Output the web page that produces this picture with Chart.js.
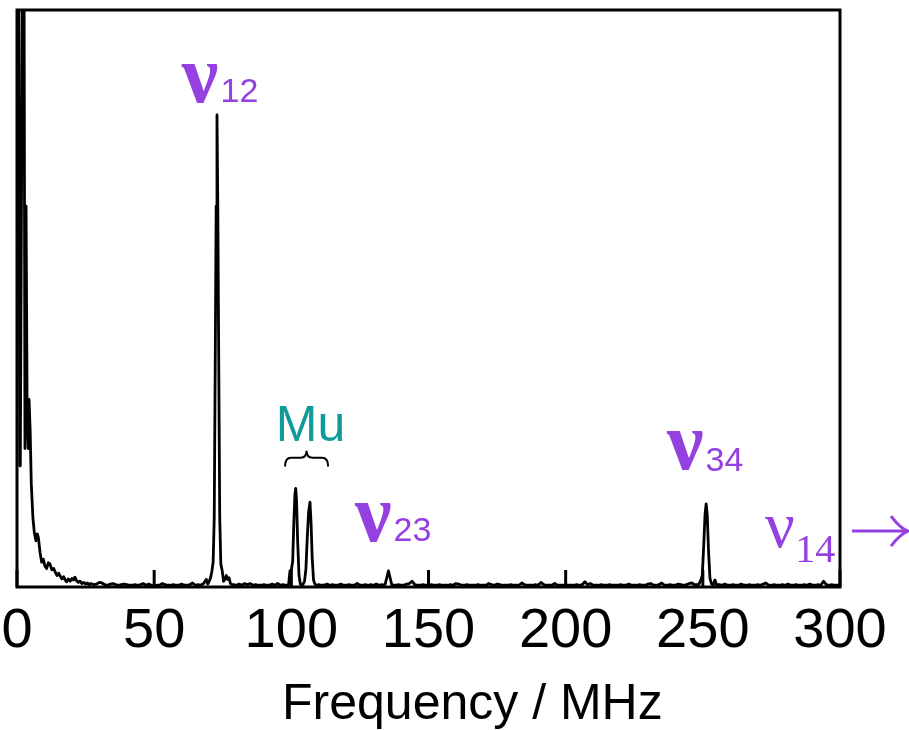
<!DOCTYPE html>
<html>
<head>
<meta charset="utf-8">
<script src="https://cdn.jsdelivr.net/npm/chart.js@4.4.1/dist/chart.umd.min.js"></script>
<style>
  html, body { margin: 0; padding: 0; background: #fff; }
  #wrap { width: 909px; height: 730px; }
</style>
</head>
<body>
<div id="wrap"><canvas id="fftChart" width="909" height="730"></canvas></div>
<script>
// FFT spectrum: frequency in MHz, amplitude in arb. units (top of frame = 100)
const xTicks = [0, 50, 100, 150, 200, 250, 300];
const xTitle = 'Frequency / MHz';

// low-frequency tail, 0-27 MHz
const lowFreq = [0, 0.5, 1.0, 1.2, 2.4, 2.9, 3.3, 3.7, 4.1, 4.4, 4.8, 5.2, 5.8, 6.3, 6.9, 7.4, 7.8, 8.4,
  9.0, 9.6, 10.2, 10.8, 11.4, 12.0, 12.7, 13.4, 13.9, 14.6, 15.2, 15.7, 16.4, 17.0, 17.6, 18.1, 18.7,
  19.4, 20.0, 20.6, 21.1, 21.7, 22.4, 23.0, 23.7, 24.4, 25.0, 25.7, 26.3];
const lowAmp = [150, 150, 21, 21, 150, 24, 66, 30, 24, 32.5, 27, 18, 12, 9.5, 8.0, 9.2, 8.5, 6.0,
  4.3, 4.8, 3.6, 3.2, 4.2, 4.0, 3.0, 3.2, 2.6, 2.0, 2.4, 1.9, 1.4, 1.8, 1.2, 0.9, 1.4,
  1.0, 1.5, 1.2, 1.7, 1.1, 0.8, 1.0, 0.6, 0.8, 0.5, 0.7, 0.4];

// background noise, one value per MHz from 27 MHz to 300 MHz
const noiseStart = 27;
const noiseAmp = [
  0.6, 0.4, 0.5, 0.8, 0.7, 0.4, 0.3, 0.5, 0.6, 0.4,
  0.3, 0.4, 0.5, 0.4, 0.3, 0.3, 0.4, 0.3, 0.4, 0.6,
  0.3, 0.5, 0.3, 0.2, 0.3, 0.3, 0.6, 0.4, 0.3, 0.3,
  0.4, 0.3, 0.3, 0.5, 0.3, 0.3, 0.4, 0.7, 0.3, 0.4,
  0.3, 0.6, 1.3, 0.5, 0.9, 1.5, 2.6, 0.5, 0.5, 0.5,
  0.5, 0.5, 0.4, 0.3, 0.5, 0.3, 0.6, 0.4, 0.6, 0.3,
  0.4, 0.3, 0.3, 0.4, 0.3, 0.3, 0.5, 0.3, 0.6, 0.3,
  0.4, 0.3, 0.4, 0.4, 0.4, 0.4, 0.4, 0.4, 0.4, 0.4,
  0.4, 0.4, 0.4, 0.4, 0.3, 0.3, 0.5, 0.3, 0.4, 0.3,
  0.3, 0.5, 0.3, 0.3, 0.4, 0.3, 0.3, 0.6, 0.3, 0.3,
  0.4, 0.3, 0.4, 0.3, 0.5, 0.3, 0.4, 0.4, 0.4, 0.4,
  0.4, 0.3, 0.4, 0.3, 0.3, 0.5, 0.6, 1.0, 0.4, 0.3,
  0.3, 0.4, 0.3, 0.3, 0.4, 0.3, 0.3, 0.4, 0.3, 0.3,
  0.3, 0.4, 0.3, 0.6, 0.5, 0.3, 0.3, 0.4, 0.3, 0.3,
  0.3, 0.4, 0.3, 0.3, 0.3, 0.6, 0.4, 0.3, 0.5, 0.4,
  0.3, 0.3, 0.3, 0.4, 0.3, 0.3, 0.3, 0.7, 0.4, 0.3,
  0.3, 0.3, 0.4, 0.3, 0.8, 0.4, 0.3, 0.3, 0.3, 0.6,
  0.3, 0.3, 0.3, 0.4, 0.3, 0.3, 0.3, 0.4, 0.3, 0.4,
  0.9, 0.4, 0.6, 0.3, 0.3, 0.3, 0.4, 0.3, 0.3, 0.4,
  0.3, 0.3, 0.3, 0.4, 0.3, 0.3, 0.5, 0.3, 0.3, 0.3,
  0.4, 0.3, 0.3, 0.5, 0.6, 0.3, 0.3, 0.4, 0.7, 0.3,
  0.3, 0.4, 0.3, 0.3, 0.5, 0.4, 0.3, 0.4, 0.6, 0.7,
  0.4, 0.4, 0.4, 0.4, 0.4, 0.4, 0.4, 0.4, 0.4, 0.4,
  0.3, 0.5, 0.3, 0.3, 0.4, 0.3, 0.3, 0.5, 0.3, 0.3,
  0.4, 0.3, 0.3, 0.4, 0.3, 0.5, 0.7, 0.3, 0.3, 0.4,
  0.3, 0.3, 0.4, 0.3, 0.5, 0.3, 0.3, 0.4, 0.3, 0.3,
  0.4, 0.3, 0.5, 0.3, 0.3, 0.4, 0.3, 1.0, 0.4, 0.3,
  0.4, 0.3, 0.3, 0.4
];

// nu12 line
const nu12Freq = [69.5, 70.0, 70.5, 71.0, 71.5, 71.9, 72.3, 72.6, 72.9, 73.2, 73.5, 73.9, 74.3, 74.8,
  75.3, 75.8, 76.3, 76.8, 77.3, 77.8, 78.3];
const nu12Amp = [0.5, 0.9, 1.5, 2.6, 4.3, 12, 42, 66, 81.8, 66, 42, 12, 4.0, 2.8,
  1.0, 1.4, 2.0, 1.3, 1.6, 0.6, 0.4];

// muonium doublet
const muFreq = [99.0, 99.5, 100.0, 100.5, 100.9, 101.3, 101.6, 101.9, 102.3, 102.8, 103.3, 103.8, 104.3,
  104.8, 105.3, 105.8, 106.3, 106.8, 107.2, 107.6, 108.1, 108.6, 109.2];
const muAmp = [0.4, 2.8, 2.9, 4.5, 11, 16, 17.1, 15, 8, 2.0, 0.5, 0.3, 0.5,
  1.0, 3.0, 8.5, 13, 14.7, 11, 5, 1.2, 0.5, 0.3];

// nu23 line
const nu23Freq = [133.6, 134.2, 134.8, 135.4, 136.0, 136.6, 137.2];
const nu23Amp = [0.3, 0.5, 1.6, 2.8, 1.6, 0.4, 0.3];

// nu34 line
const nu34Freq = [248.0, 248.6, 249.2, 249.8, 250.3, 250.8, 251.2, 251.6, 252.1, 252.6, 253.2, 253.8, 254.4, 255.0];
const nu34Amp = [0.4, 0.5, 1.1, 2.0, 7, 12.5, 14.4, 12.5, 6, 1.5, 0.5, 0.4, 1.2, 0.4];

// build the spectrum: measured segments + noise outside them
const segments = [[lowFreq, lowAmp], [nu12Freq, nu12Amp], [muFreq, muAmp], [nu23Freq, nu23Amp], [nu34Freq, nu34Amp]];
const points = [];
segments.forEach(([f, a]) => f.forEach((v, i) => points.push({ x: v, y: a[i] })));
noiseAmp.forEach((a, i) => {
  const f = noiseStart + i;
  const covered = segments.some(([fs]) => f >= fs[0] && f <= fs[fs.length - 1]);
  if (!covered) points.push({ x: f, y: a });
});
points.sort((p, q) => p.x - q.x);

const PURPLE = '#9540e0';
const TEAL = '#119a9a';
const SANS = '"Liberation Sans", Arial, sans-serif';
const SERIF = '"Liberation Serif", "Times New Roman", serif';

// frame, inward ticks, axis title and peak labels
const annotate = {
  id: 'annotate',
  afterDatasetsDraw(chart) {
    const { ctx, chartArea: a, scales: { x, y } } = chart;
    ctx.save();
    ctx.strokeStyle = '#000';
    ctx.lineWidth = 3;
    ctx.strokeRect(a.left, a.top, a.width, a.height);
    xTicks.forEach(v => {
      const px = x.getPixelForValue(v);
      ctx.beginPath();
      ctx.moveTo(px, a.bottom);
      ctx.lineTo(px, a.bottom - 17);
      ctx.stroke();
    });

    // axis title (sits right of centre in the original)
    ctx.fillStyle = '#000';
    ctx.font = '50px ' + SANS;
    ctx.textAlign = 'center';
    ctx.textBaseline = 'alphabetic';
    ctx.fillText(xTitle, x.getPixelForValue(166), a.bottom + 132);

    ctx.textAlign = 'left';
    ctx.fillStyle = PURPLE;
    const nu = (f, amp, sub, dy) => {
      const px = x.getPixelForValue(f), py = y.getPixelForValue(amp);
      ctx.font = 'bold 82px ' + SERIF;
      ctx.fillText('ν', px, py);
      const w = ctx.measureText('ν').width;
      ctx.font = '34px ' + SANS;
      ctx.fillText(sub, px + w + 2, py + dy);
    };
    nu(60.1, 84.1, '12', 0);
    nu(123.2, 8.0, '23', 0);
    nu(236.9, 20.4, '34', 2);

    // nu14, off the right edge
    const px = x.getPixelForValue(272.7), py = y.getPixelForValue(6.9);
    ctx.font = '66px ' + SERIF;
    ctx.fillText('ν', px, py);
    ctx.font = '40px ' + SERIF;
    ctx.fillText('14', px + ctx.measureText('ν').width + 12, py + 15);
    // arrow
    const ax0 = x.getPixelForValue(304.4), ax1 = x.getPixelForValue(324.8), ay = y.getPixelForValue(9.7);
    ctx.strokeStyle = PURPLE;
    ctx.lineWidth = 3;
    ctx.beginPath();
    ctx.moveTo(ax0, ay);
    ctx.lineTo(ax1, ay);
    ctx.moveTo(ax1 - 17, ay - 15);
    ctx.quadraticCurveTo(ax1 - 8, ay - 3, ax1, ay);
    ctx.quadraticCurveTo(ax1 - 8, ay + 3, ax1 - 17, ay + 15);
    ctx.stroke();

    // Mu with brace
    ctx.fillStyle = TEAL;
    ctx.font = '50px ' + SANS;
    ctx.textAlign = 'center';
    ctx.fillText('Mu', x.getPixelForValue(107), y.getPixelForValue(25.3));
    const b1 = x.getPixelForValue(97.7), b2 = x.getPixelForValue(113.4), bc = (b1 + b2) / 2;
    const yb = y.getPixelForValue(20.9), ym = y.getPixelForValue(22.4), yt = y.getPixelForValue(23.6);
    ctx.strokeStyle = '#000';
    ctx.lineWidth = 2;
    ctx.beginPath();
    ctx.moveTo(b1, yb);
    ctx.quadraticCurveTo(b1, ym, b1 + 6, ym);
    ctx.lineTo(bc - 6, ym);
    ctx.quadraticCurveTo(bc, ym, bc, yt);
    ctx.quadraticCurveTo(bc, ym, bc + 6, ym);
    ctx.lineTo(b2 - 6, ym);
    ctx.quadraticCurveTo(b2, ym, b2, yb);
    ctx.stroke();
    ctx.restore();
  }
};

new Chart(document.getElementById('fftChart'), {
  type: 'line',
  data: {
    datasets: [{
      data: points,
      borderColor: '#000',
      borderWidth: 2.8,
      borderJoinStyle: 'round',
      pointRadius: 0,
      tension: 0,
      fill: false
    }]
  },
  options: {
    responsive: false,
    animation: false,
    layout: { padding: { left: 17, right: 69, top: 10, bottom: 70 } },
    plugins: { legend: { display: false }, tooltip: { enabled: false } },
    scales: {
      x: {
        type: 'linear',
        min: 0,
        max: 300,
        afterBuildTicks: s => { s.ticks = xTicks.map(v => ({ value: v })); },
        grid: { display: false, drawTicks: true, tickLength: 17 },
        border: { display: false },
        ticks: { color: '#000', padding: 0, maxRotation: 0, font: { family: SANS, size: 56, lineHeight: 1.0 } }
      },
      y: { display: false, min: 0, max: 100 }
    }
  },
  plugins: [annotate]
});
</script>
</body>
</html>
